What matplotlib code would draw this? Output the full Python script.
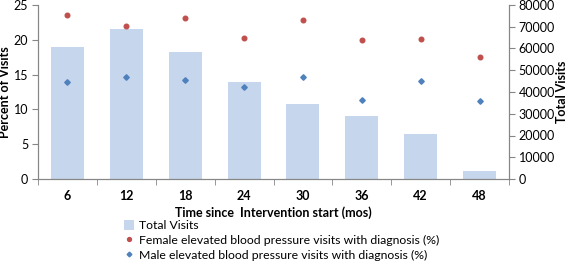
import matplotlib
matplotlib.use("Agg")
import matplotlib.pyplot as plt
from matplotlib.patches import Patch
from matplotlib.lines import Line2D
import numpy as np

months = ["6", "12", "18", "24", "30", "36", "42", "48"]
total_visits = [60800, 68800, 58200, 44500, 34500, 29000, 20700, 3700]
female_pct = [23.5, 22.0, 23.2, 20.3, 22.8, 19.9, 20.05, 17.5]
male_pct = [13.95, 14.7, 14.25, 13.2, 14.6, 11.4, 14.15, 11.2]

plt.rcParams['font.family'] = ['Lato', 'DejaVu Sans']
fs = 9
gray = '#868686'

fig = plt.figure(figsize=(5.67, 2.64), dpi=100)
ax = fig.add_axes([38/567, 1-179/264, (509-38)/567, (179-5)/264])
ax2 = ax.twinx()
ax.set_zorder(ax2.get_zorder() + 1)
ax.patch.set_visible(False)

x = np.arange(len(months))
ax2.bar(x, total_visits, width=0.56, color='#C6D6EC', zorder=1)
ax.plot(x, female_pct, linestyle='none', marker='o', markersize=3.3, color='#C0504D')
ax.plot(x, male_pct, linestyle='none', marker='D', markersize=2.8, color='#4F81BD')

ax.set_xlim(-0.5, len(months) - 0.5)
ax.set_ylim(0, 25)
ax2.set_ylim(0, 80000)
ax.set_yticks(range(0, 26, 5))
ax2.set_yticks(range(0, 80001, 10000))
ax.set_xticks(x)
ax.set_xticklabels(months, fontsize=fs, fontweight='bold')
ax.set_xticks(np.arange(-0.5, len(months)), minor=True)
ax.tick_params(axis='x', which='major', length=0, pad=8)
ax.tick_params(axis='x', which='minor', length=4, color=gray, direction='out')
ax.tick_params(axis='y', labelsize=fs, length=4, color=gray, pad=3)
ax2.tick_params(axis='y', labelsize=fs, length=4, color=gray, pad=3)

for a in (ax, ax2):
    for s in a.spines.values():
        s.set_color(gray)
    a.spines['top'].set_visible(False)

ax.set_ylabel('Percent of Visits', fontsize=fs, fontweight='bold', labelpad=2)
ax2.set_ylabel('Total Visits', fontsize=fs, fontweight='bold', labelpad=1)
ax.set_xlabel('Time since  Intervention start (mos)', fontsize=fs, fontweight='bold', labelpad=3)

handles = [
    Patch(facecolor='#C6D6EC', edgecolor='none'),
    Line2D([], [], linestyle='none', marker='o', markersize=2.8, color='#C0504D'),
    Line2D([], [], linestyle='none', marker='D', markersize=2.4, color='#4F81BD'),
]
labels = ['Total Visits',
          'Female elevated blood pressure visits with diagnosis (%)',
          'Male elevated blood pressure visits with diagnosis (%)']
fig.legend(handles, labels, loc='upper left', bbox_to_anchor=(124/567, 1-220/264),
           frameon=False, fontsize=8.8, handlelength=0.8, handleheight=0.9,
           handletextpad=0.4, labelspacing=0.28, borderpad=0, borderaxespad=0)

fig.savefig('out.png', dpi=100)
